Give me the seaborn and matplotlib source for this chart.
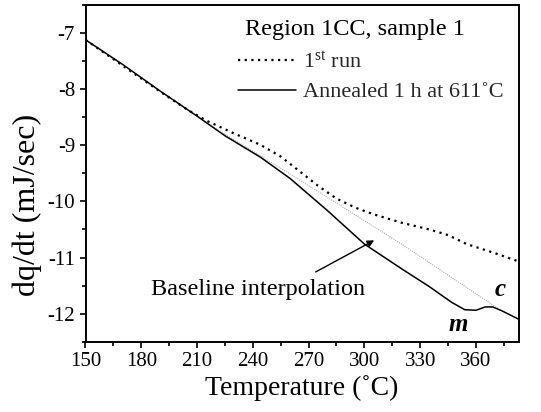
import matplotlib
matplotlib.use("Agg")
import matplotlib.pyplot as plt
from matplotlib.ticker import MultipleLocator
import seaborn as sns
import pandas as pd

# Data
temp_first = [150, 170, 190, 205, 215, 230, 244, 255, 265, 275, 285, 295, 305, 320, 335, 345, 355, 370, 383]
dqdt_first = [-7.12, -7.58, -8.04, -8.37, -8.56, -8.79, -8.99, -9.20, -9.46, -9.72, -9.95, -10.11, -10.23,
              -10.38, -10.50, -10.60, -10.76, -10.92, -11.07]

temp_ann = [150, 170, 190, 210, 225, 244, 260, 280, 300, 320, 335, 347, 354, 360, 365, 369, 374, 383]
dqdt_ann = [-7.12, -7.56, -8.03, -8.48, -8.83, -9.21, -9.59, -10.16, -10.76, -11.20, -11.52, -11.80,
            -11.93, -11.94, -11.88, -11.88, -11.95, -12.10]

temp_base = [214, 260, 320, 372]
dqdt_base = [-8.58, -9.51, -10.76, -11.91]

x_ticks = [150, 180, 210, 240, 270, 300, 330, 360]
y_ticks = [-7, -8, -9, -10, -11, -12]

sns.set_theme(style="white")
plt.rcParams['font.family'] = ['Liberation Serif', 'DejaVu Serif']
plt.rcParams['mathtext.fontset'] = 'custom'
plt.rcParams['mathtext.rm'] = 'Liberation Serif'
plt.rcParams['mathtext.it'] = 'Liberation Serif:italic'
plt.rcParams['axes.unicode_minus'] = False

fig = plt.figure(figsize=(5.41, 4.12), dpi=100)
ax = fig.add_axes([85.5 / 541, 1 - 341.7 / 412, (518.7 - 85.5) / 541, (341.7 - 5) / 412])

df_first = pd.DataFrame({"T": temp_first, "q": dqdt_first})
df_ann = pd.DataFrame({"T": temp_ann, "q": dqdt_ann})
df_base = pd.DataFrame({"T": temp_base, "q": dqdt_base})

sns.lineplot(data=df_base, x="T", y="q", ax=ax, color="#b0b0b0", lw=0.8,
             linestyle=(0, (1, 1)), legend=False)
sns.lineplot(data=df_first, x="T", y="q", ax=ax, color="black", lw=1.6,
             linestyle=(0, (1, 2)), label="1$^{\\mathrm{st}}$ run")
sns.lineplot(data=df_ann, x="T", y="q", ax=ax, color="black", lw=1.1,
             label="Annealed 1 h at 611˚C")

ax.set_xlim(150, 383)
ax.set_ylim(-12.5, -6.5)
ax.set_xticks(x_ticks)
ax.set_yticks(y_ticks)
ax.xaxis.set_minor_locator(MultipleLocator(15))
ax.yaxis.set_minor_locator(MultipleLocator(0.5))
ax.tick_params(which="both", direction="out", bottom=True, left=True, top=False, right=False,
               width=1.2, colors="black", labelsize=15)
ax.tick_params(which="major", length=4.5, pad=3)
ax.tick_params(which="minor", length=3)
for s in ax.spines.values():
    s.set_color("black")
    s.set_linewidth(1.4)

ax.set_xlabel("Temperature (˚C)", fontsize=20, color="black", labelpad=3)
ax.set_ylabel("dq/dt (mJ/sec)", fontsize=23, color="black")
ax.yaxis.set_label_coords((42 - 85.5) / 433.2, (341.7 - 205) / 336.7)

ax.text((245 - 85.5) / 433.2, (341.7 - 29) / 336.7, "Region 1CC, sample 1", transform=ax.transAxes,
        fontsize=17.5, ha="left", va="center", color="black")
leg = ax.legend(loc="upper left", frameon=False, fontsize=16, handlelength=2.6, handletextpad=0.32,
                bbox_to_anchor=((238 - 85.5) / 433.2, (341.7 - 51) / 336.7),
                borderaxespad=0, borderpad=0, labelspacing=0.42)

ax.annotate("", xy=(306.6, -10.67), xytext=(272.5, -11.28),
            arrowprops=dict(arrowstyle="-|>", color="black", lw=1.0, mutation_scale=10))
ax.text(242.8, -11.57, "Baseline interpolation", fontsize=17.5, ha="center", va="center", color="black")
ax.text(373, -11.57, "c", fontsize=18, ha="center", va="center", style="italic", weight="bold", color="black")
ax.text(350.5, -12.19, "m", fontsize=18, ha="center", va="center", style="italic", weight="bold", color="black")

fig.savefig("out.png", dpi=100)
